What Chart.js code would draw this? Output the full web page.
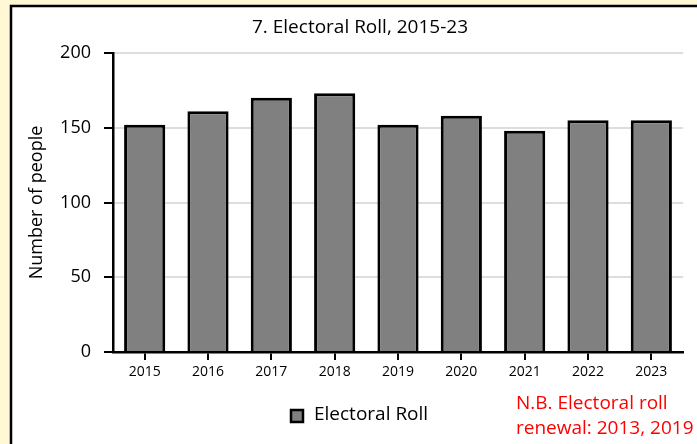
<!DOCTYPE html>
<html>
<head>
<meta charset="utf-8">
<script src="https://cdn.jsdelivr.net/npm/chart.js@4.4.0/dist/chart.umd.min.js"></script>
<style>
  html, body { margin: 0; padding: 0; background: #fff8d4; }
  #wrap { width: 697px; height: 444px; position: relative; }
</style>
</head>
<body>
<div id="wrap"><canvas id="chartRoll"></canvas></div>
<script>
const years = ["2015", "2016", "2017", "2018", "2019", "2020", "2021", "2022", "2023"];
const rollValues = [152, 161, 170, 173, 152, 158, 148, 155, 155];
const yTicks = [0, 50, 100, 150, 200];
const titleText = "7. Electoral Roll, 2015-23";
const noteLines = ["N.B. Electoral roll", "renewal: 2013, 2019"];

const FONT = "'Open Sans', Lato, sans-serif";

// fondo amarillo + caja blanca con borde
const boxPlugin = {
  id: "box",
  beforeDraw(chart) {
    const ctx = chart.ctx;
    ctx.save();
    ctx.fillStyle = "#fff8d4";
    ctx.fillRect(0, 0, chart.width, chart.height);
    ctx.fillStyle = "#ffffff";
    ctx.fillRect(11, 6, chart.width, chart.height);
    ctx.strokeStyle = "#000";
    ctx.lineWidth = 2.5;
    ctx.beginPath();
    ctx.moveTo(11, chart.height + 5);
    ctx.lineTo(11, 6);
    ctx.lineTo(chart.width + 5, 6);
    ctx.stroke();
    ctx.restore();
  },
  afterDraw(chart) {
    const ctx = chart.ctx;
    const ds = chart.data.datasets[0];
    ctx.save();
    // titulo
    ctx.fillStyle = "#000";
    ctx.font = "19px " + FONT;
    ctx.textAlign = "center";
    ctx.textBaseline = "middle";
    ctx.fillText(titleText, 360, 28);
    // leyenda
    ctx.fillStyle = ds.backgroundColor;
    ctx.fillRect(291, 410, 12, 12);
    ctx.strokeStyle = ds.borderColor;
    ctx.lineWidth = 2.5;
    ctx.strokeRect(291, 410, 12, 12);
    ctx.fillStyle = "#000";
    ctx.textAlign = "left";
    ctx.fillText(ds.label, 314, 415);
    // nota roja
    ctx.fillStyle = "#ff0000";
    ctx.fillText(noteLines[0], 516, 404);
    ctx.fillText(noteLines[1], 516, 429);
    ctx.restore();
  }
};

new Chart(document.getElementById("chartRoll").getContext("2d"), {
  type: "bar",
  data: {
    labels: years,
    datasets: [{
      label: "Electoral Roll",
      data: rollValues,
      backgroundColor: "#808080",
      borderColor: "#000000",
      borderWidth: 3,
      borderSkipped: "bottom",
      barPercentage: 0.65,
      categoryPercentage: 1
    }]
  },
  options: {
    responsive: true,
    maintainAspectRatio: false,
    animation: false,
    layout: { padding: { left: 20, top: 53, right: 14, bottom: 62 } },
    plugins: {
      legend: { display: false },
      title: { display: false },
      tooltip: { enabled: false }
    },
    scales: {
      x: {
        afterFit: (s) => { s.height = 30; },
        grid: {
          offset: false,
          drawOnChartArea: false,
          drawTicks: true,
          tickLength: 8,
          tickColor: "#000",
          lineWidth: 2
        },
        border: { color: "#000", width: 2.5 },
        ticks: { color: "#000", font: { family: FONT, size: 14 }, padding: 4, maxRotation: 0 }
      },
      y: {
        min: 0,
        max: 200,
        afterFit: (s) => { s.width = 93; },
        afterBuildTicks: (s) => { s.ticks = yTicks.map((v) => ({ value: v })); },
        grid: {
          color: "#dddddd",
          lineWidth: 2,
          tickColor: "#000",
          tickLength: 9
        },
        border: { color: "#000", width: 2.5 },
        ticks: { color: "#000", font: { family: FONT, size: 18 }, padding: 13 },
        title: {
          display: true,
          text: "Number of people",
          color: "#000",
          font: { family: FONT, size: 18 },
          padding: { top: 6, bottom: 0 }
        }
      }
    }
  },
  plugins: [boxPlugin]
});
</script>
</body>
</html>
